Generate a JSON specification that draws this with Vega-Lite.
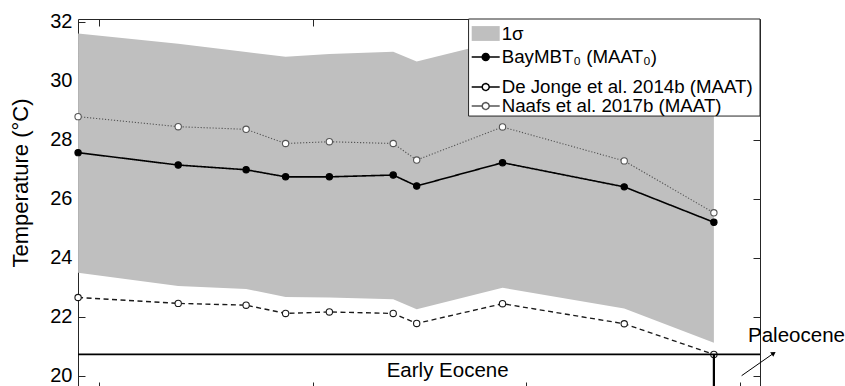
{
  "$schema": "https://vega.github.io/schema/vega-lite/v6.json",
  "width": 682,
  "height": 367,
  "autosize": {"type": "none"},
  "padding": {"left": 78, "top": 19, "right": 85, "bottom": 0},
  "background": "white",
  "config": {
    "font": "Liberation Sans",
    "view": {"stroke": null},
    "axis": {"grid": false, "domainColor": "#262626", "tickColor": "#262626", "labelColor": "#000000", "titleColor": "#000000", "labelFont": "Liberation Sans", "titleFont": "Liberation Sans", "domainWidth": 1, "tickWidth": 1},
    "legend": {
      "title": null, "orient": "none", "padding": 0, "offset": 0,
      "labelFont": "Liberation Sans", "labelFontSize": 18.7, "labelColor": "#000000", "labelLimit": 400,
      "symbolSize": 784, "symbolOffset": 0, "labelOffset": 1
    }
  },
  "datasets": {
    "pts": [
      {"x": 90.2, "bay": 27.56, "dj": 22.65, "naafs": 28.78, "lo": 23.49, "hi": 31.6},
      {"x": 137.1, "bay": 27.14, "dj": 22.45, "naafs": 28.44, "lo": 23.04, "hi": 31.25},
      {"x": 168.9, "bay": 26.98, "dj": 22.39, "naafs": 28.35, "lo": 22.94, "hi": 30.97},
      {"x": 187.4, "bay": 26.74, "dj": 22.11, "naafs": 27.87, "lo": 22.67, "hi": 30.81},
      {"x": 207.9, "bay": 26.74, "dj": 22.16, "naafs": 27.93, "lo": 22.65, "hi": 30.9},
      {"x": 237.8, "bay": 26.8, "dj": 22.11, "naafs": 27.87, "lo": 22.59, "hi": 30.98},
      {"x": 248.8, "bay": 26.43, "dj": 21.77, "naafs": 27.31, "lo": 22.25, "hi": 30.65},
      {"x": 289.0, "bay": 27.22, "dj": 22.44, "naafs": 28.43, "lo": 22.98, "hi": 31.37},
      {"x": 346.0, "bay": 26.4, "dj": 21.76, "naafs": 27.28, "lo": 22.28, "hi": 30.57},
      {"x": 388.0, "bay": 25.2, "dj": 20.72, "naafs": 25.52, "lo": 21.12, "hi": 29.32}
    ]
  },
  "layer": [
    {
      "data": {"name": "pts"},
      "mark": {"type": "area", "color": "#bfbfbf", "opacity": 1},
      "encoding": {
        "x": {"field": "x", "type": "quantitative", "scale": {"domain": [90.16, 409.6], "nice": false, "zero": false},
          "axis": {"orient": "bottom", "values": [100, 200, 300, 400], "labels": false, "title": null, "domain": false, "tickSize": -4}},
        "y": {"field": "hi", "type": "quantitative", "scale": {"domain": [19.65, 32.09], "nice": false, "zero": false},
          "axis": {"orient": "left", "values": [20, 22, 24, 26, 28, 30, 32], "title": "Temperature (°C)", "tickSize": -7, "labelPadding": 13, "labelFontSize": 20, "titleFontSize": 22, "titleFontWeight": "normal", "titleX": -58, "titleY": 163.5, "titleAngle": 270, "titleBaseline": "middle", "titleAlign": "center"}},
        "y2": {"field": "lo"}
      }
    },
    {
      "data": {"name": "pts"},
      "transform": [{"fold": ["bay", "dj", "naafs"], "as": ["series", "t"]}],
      "mark": {"type": "line", "opacity": 1},
      "encoding": {
        "x": {"field": "x", "type": "quantitative", "axis": {"orient": "top", "values": [100, 200, 300, 400], "labels": false, "title": null, "tickSize": -7}},
        "y": {"field": "t", "type": "quantitative", "axis": {"orient": "right", "values": [20, 22, 24, 26, 28, 30, 32], "labels": false, "title": null, "tickSize": -7}},
        "stroke": {"field": "series", "type": "nominal", "scale": {"domain": ["bay", "dj", "naafs"], "range": ["#000000", "#1a1a1a", "#555555"]}, "legend": null},
        "strokeDash": {"field": "series", "type": "nominal", "scale": {"domain": ["bay", "dj", "naafs"], "range": [[1, 0], [5, 3.5], [1.2, 1.8]]}, "legend": null},
        "strokeWidth": {"field": "series", "type": "ordinal", "scale": {"domain": ["bay", "dj", "naafs"], "range": [1.6, 1.1, 1.1]}, "legend": null}
      }
    },
    {
      "data": {"name": "pts"},
      "transform": [{"fold": ["bay", "dj", "naafs"], "as": ["series", "t"]}],
      "mark": {"type": "point", "shape": "circle", "size": 40, "strokeWidth": 1.1, "opacity": 1},
      "encoding": {
        "x": {"field": "x", "type": "quantitative", "axis": null},
        "y": {"field": "t", "type": "quantitative", "axis": null},
        "stroke": {"field": "series", "type": "nominal", "legend": null},
        "fill": {"field": "series", "type": "nominal", "scale": {"domain": ["bay", "dj", "naafs"], "range": ["#000000", "#ffffff", "#ffffff"]}, "legend": null}
      }
    },
    {
      "data": {"values": [{"x": 273.1, "x2": 409.6, "y": 32.09, "y2": 28.8}]},
      "mark": {"type": "rect", "fill": "#ffffff", "stroke": "#262626", "strokeWidth": 1, "opacity": 1},
      "encoding": {
        "x": {"field": "x", "type": "quantitative", "axis": null},
        "x2": {"field": "x2"},
        "y": {"field": "y", "type": "quantitative", "axis": null},
        "y2": {"field": "y2"}
      }
    },
    {
      "data": {"values": []},
      "mark": {"type": "point", "filled": true, "fill": "#bfbfbf", "stroke": "transparent", "strokeWidth": 0, "opacity": 1},
      "encoding": {
        "shape": {"datum": "1σ", "type": "nominal",
          "scale": {"domain": ["1σ"], "range": ["M-1,-0.53H1V0.53H-1Z"]},
          "legend": {"legendX": 392.7, "legendY": -0.5}}
      }
    },
    {
      "data": {"values": []},
      "mark": {"type": "point", "filled": true, "fill": "#000000", "stroke": "#000000", "strokeWidth": 1.5, "opacity": 1},
      "encoding": {
        "shape": {"datum": "BayMBT₀ (MAAT₀)", "type": "nominal",
          "scale": {"domain": ["BayMBT₀ (MAAT₀)"], "range": ["M-1,0H-0.25M0.25,0H1M0.25,0A0.25,0.25,0,1,1,-0.25,0A0.25,0.25,0,1,1,0.25,0Z"]},
          "legend": {"legendX": 392.7, "legendY": 23}}
      }
    },
    {
      "data": {"values": []},
      "mark": {"type": "point", "filled": false, "fill": "transparent", "stroke": "#000000", "strokeWidth": 1.1, "strokeDash": [4, 3], "opacity": 1},
      "encoding": {
        "shape": {"datum": "De Jonge et al. 2014b (MAAT)", "type": "nominal",
          "scale": {"domain": ["De Jonge et al. 2014b (MAAT)"], "range": ["M-1,0H-0.25M0.25,0H1M0.25,0L0.231,0.0957M0.231,0.0957L0.1768,0.1768M0.1768,0.1768L0.0957,0.231M0.0957,0.231L0,0.25M0,0.25L-0.0957,0.231M-0.0957,0.231L-0.1768,0.1768M-0.1768,0.1768L-0.231,0.0957M-0.231,0.0957L-0.25,0M-0.25,0L-0.231,-0.0957M-0.231,-0.0957L-0.1768,-0.1768M-0.1768,-0.1768L-0.0957,-0.231M-0.0957,-0.231L0,-0.25M0,-0.25L0.0957,-0.231M0.0957,-0.231L0.1768,-0.1768M0.1768,-0.1768L0.231,-0.0957M0.231,-0.0957L0.25,0"]},
          "legend": {"legendX": 392.7, "legendY": 53}}
      }
    },
    {
      "data": {"values": []},
      "mark": {"type": "point", "filled": false, "fill": "transparent", "stroke": "#555555", "strokeWidth": 1.1, "strokeDash": [1.5, 1.5], "opacity": 1},
      "encoding": {
        "shape": {"datum": "Naafs et al. 2017b (MAAT)", "type": "nominal",
          "scale": {"domain": ["Naafs et al. 2017b (MAAT)"], "range": ["M-1,0H-0.25M0.25,0H1M0.25,0L0.231,0.0957M0.231,0.0957L0.1768,0.1768M0.1768,0.1768L0.0957,0.231M0.0957,0.231L0,0.25M0,0.25L-0.0957,0.231M-0.0957,0.231L-0.1768,0.1768M-0.1768,0.1768L-0.231,0.0957M-0.231,0.0957L-0.25,0M-0.25,0L-0.231,-0.0957M-0.231,-0.0957L-0.1768,-0.1768M-0.1768,-0.1768L-0.0957,-0.231M-0.0957,-0.231L0,-0.25M0,-0.25L0.0957,-0.231M0.0957,-0.231L0.1768,-0.1768M0.1768,-0.1768L0.231,-0.0957M0.231,-0.0957L0.25,0"]},
          "legend": {"legendX": 392.7, "legendY": 72}}
      }
    },
    {
      "data": {"values": [{"level": 20.72}]},
      "mark": {"type": "rule", "strokeWidth": 1.8, "color": "#000000"},
      "encoding": {"y": {"field": "level", "type": "quantitative", "axis": null}}
    },
    {
      "data": {"values": [{"bx": 388.0, "level": 20.72, "bottom": 19.65}]},
      "mark": {"type": "rule", "strokeWidth": 2.2, "color": "#000000"},
      "encoding": {
        "x": {"field": "bx", "type": "quantitative", "axis": null},
        "y": {"field": "level", "type": "quantitative", "axis": null},
        "y2": {"field": "bottom"}
      }
    },
    {
      "data": {"values": [{"x": 263.3, "y": 19.95, "label": "Early Eocene"}]},
      "mark": {"type": "text", "fontSize": 20.5, "align": "center", "baseline": "alphabetic", "color": "#000000", "font": "Liberation Sans"},
      "encoding": {
        "x": {"field": "x", "type": "quantitative", "axis": null},
        "y": {"field": "y", "type": "quantitative", "axis": null},
        "text": {"field": "label"}
      }
    },
    {
      "data": {"values": [{"x": 404.0, "y": 21.15, "label": "Paleocene"}]},
      "mark": {"type": "text", "fontSize": 20.5, "align": "left", "baseline": "alphabetic", "color": "#000000", "font": "Liberation Sans"},
      "encoding": {
        "x": {"field": "x", "type": "quantitative", "axis": null},
        "y": {"field": "y", "type": "quantitative", "axis": null},
        "text": {"field": "label"}
      }
    },
    {
      "data": {"values": [{"x": 401.0, "y": 20.0, "x2": 416.0, "y2": 20.76}]},
      "mark": {"type": "rule", "strokeWidth": 1, "color": "#000000"},
      "encoding": {
        "x": {"field": "x", "type": "quantitative", "axis": null},
        "y": {"field": "y", "type": "quantitative", "axis": null},
        "x2": {"field": "x2"},
        "y2": {"field": "y2"}
      }
    },
    {
      "data": {"values": [{"x": 416.0, "y": 20.76}]},
      "mark": {"type": "point", "shape": "triangle-up", "size": 30, "angle": 55, "filled": true, "color": "#000000", "opacity": 1},
      "encoding": {
        "x": {"field": "x", "type": "quantitative", "axis": null},
        "y": {"field": "y", "type": "quantitative", "axis": null}
      }
    }
  ],
  "resolve": {"axis": {"x": "independent", "y": "independent"}, "scale": {"shape": "independent"}, "legend": {"shape": "independent"}}
}
